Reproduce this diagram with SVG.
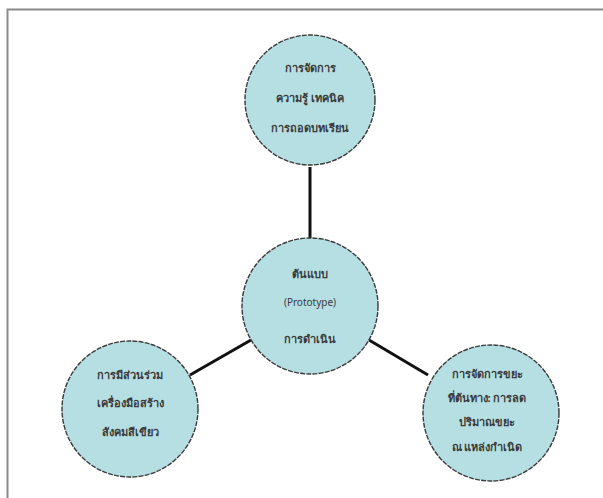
<svg xmlns="http://www.w3.org/2000/svg" width="603" height="498" viewBox="0 0 603 498">
<style>
.node circle{fill:#b6dfe3;stroke:#3a3a3a;stroke-width:1.4;stroke-dasharray:5 1.2}
.node text{font-family:"Noto Sans","DejaVu Sans",sans-serif;font-size:11px;font-weight:bold;fill:#3a3a3a;text-anchor:middle}
.conn line{stroke:#111;stroke-width:3}
</style>
<rect x="0" y="0" width="603" height="498" fill="#ffffff"/>
<path d="M7.5 520 V9.5 H620" fill="none" stroke="#8a8a8a" stroke-width="2"/>
<g id="connectors" class="conn">
<line x1="310" y1="167" x2="310" y2="238"/>
<line x1="251" y1="340" x2="190" y2="375"/>
<line x1="369" y1="340" x2="428" y2="375"/>
</g>
<g id="top" class="node">
<circle cx="310" cy="100" r="65"/>
<text x="310" y="72">การจัดการ</text>
<text x="310" y="102">ความรู้ เทคนิค</text>
<text x="310" y="132">การถอดบทเรียน</text>
</g>
<g id="center" class="node">
<circle cx="310" cy="306" r="68"/>
<text x="310" y="278">ต้นแบบ</text>
<text x="310" y="306" style="font-size:10px;font-weight:normal">(Prototype)</text>
<text x="310" y="343">การดำเนิน</text>
</g>
<g id="left" class="node">
<circle cx="130" cy="409" r="68"/>
<text x="130" y="379">การมีส่วนร่วม</text>
<text x="130" y="407">เครื่องมือสร้าง</text>
<text x="130" y="436">สังคมสีเขียว</text>
</g>
<g id="right" class="node">
<circle cx="491" cy="413" r="68"/>
<text x="487" y="378">การจัดการขยะ</text>
<text x="487" y="402">ที่ต้นทาง: การลด</text>
<text x="487" y="426">ปริมาณขยะ</text>
<text x="487" y="451">ณ แหล่งกำเนิด</text>
</g>
</svg>
